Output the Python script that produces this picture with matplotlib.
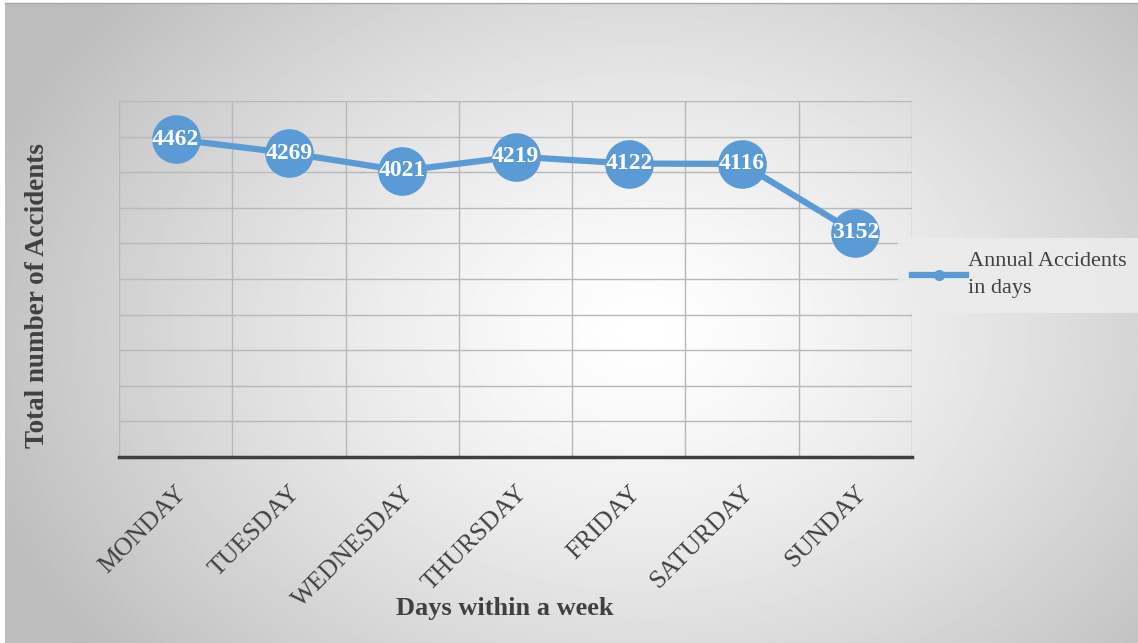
import numpy as np
import matplotlib
matplotlib.use("Agg")
import matplotlib.pyplot as plt

# Data
days = ["MONDAY", "TUESDAY", "WEDNESDAY", "THURSDAY", "FRIDAY", "SATURDAY", "SUNDAY"]
accidents = [4462, 4269, 4021, 4219, 4122, 4116, 3152]
series_name = "Annual Accidents\nin days"
y_ticks = np.arange(0, 5001, 500)

plt.rcParams["font.family"] = ["Liberation Serif", "DejaVu Serif"]

W, H = 1138, 643
fig = plt.figure(figsize=(W / 100, H / 100), dpi=100)

# radial gradient background
bg = fig.add_axes([5 / W, 0, 1 - 5 / W, 1 - 3 / H], zorder=-10)
yy, xx = np.mgrid[0:H, 0:W]
r = np.sqrt(((xx - 640) / 700.0) ** 2 + ((yy - 330) / 520.0) ** 2)
val = np.clip(1.0 - 0.26 * r ** 1.3, 0.74, 1.0)
bg.imshow(val, cmap="gray", vmin=0, vmax=1, aspect="auto", interpolation="bilinear")
bg.set_axis_off()
fig.add_artist(plt.Line2D([5 / W, 1], [1 - 3 / H, 1 - 3 / H], color="#a8a8a8", lw=1))

ax = fig.add_axes([119 / W, 1 - 457 / H, (912 - 119) / W, (457 - 101) / H])
ax.patch.set_alpha(0)
x = np.arange(len(days))
ax.plot(x, accidents, color="#5b9bd5", lw=4.5, marker="o", markersize=34,
        label=series_name, zorder=3)
for xi, v in zip(x, accidents):
    ax.text(xi, v, str(v), color="white", fontsize=17, fontweight="bold",
            ha="center", va="center", zorder=4)

ax.set_xlim(-0.5, len(days) - 0.5)
ax.set_ylim(0, 5000)
ax.set_yticks(y_ticks)
ax.set_yticklabels([])
ax.set_xticks(x)
ax.set_xticklabels(days, rotation=45, ha="right", rotation_mode="anchor",
                   fontsize=18.5, color="#404040")
ax.set_xticks(np.arange(-0.5, len(days), 1), minor=True)
ax.tick_params(axis="both", which="both", length=0)
ax.tick_params(axis="x", pad=18)
ax.grid(True, axis="y", which="major", color="#b8b8b8", lw=1)
ax.grid(True, axis="x", which="minor", color="#b8b8b8", lw=1)
for s in ["top", "right", "left"]:
    ax.spines[s].set_visible(False)
ax.spines["bottom"].set_color("#404040")
ax.spines["bottom"].set_linewidth(2.5)

fig.text(38 / W, 1 - 296 / H, "Total number of Accidents", rotation=90,
         fontsize=19.5, fontweight="bold", color="#404040", ha="center", va="center")
fig.text(505 / W, 1 - 608 / H, "Days within a week", fontsize=19,
         fontweight="bold", color="#404040", ha="center", va="center")

handle = plt.Line2D([], [], color="#5b9bd5", lw=4.5, marker="o", markersize=7)
leg = fig.legend([handle], [series_name],
                 loc="upper left", bbox_to_anchor=(898 / W, 1 - 238 / H),
                 frameon=True, fancybox=False, fontsize=16, handlelength=2.4,
                 handletextpad=0.1, borderaxespad=0, borderpad=0.65,
                 labelcolor="#404040")
for t in leg.get_texts():
    t.set_linespacing(1.55)
leg.get_frame().set_facecolor("#ececec")
leg.get_frame().set_edgecolor("none")
leg.get_frame().set_alpha(0.9)

fig.savefig("out.png", dpi=100)
